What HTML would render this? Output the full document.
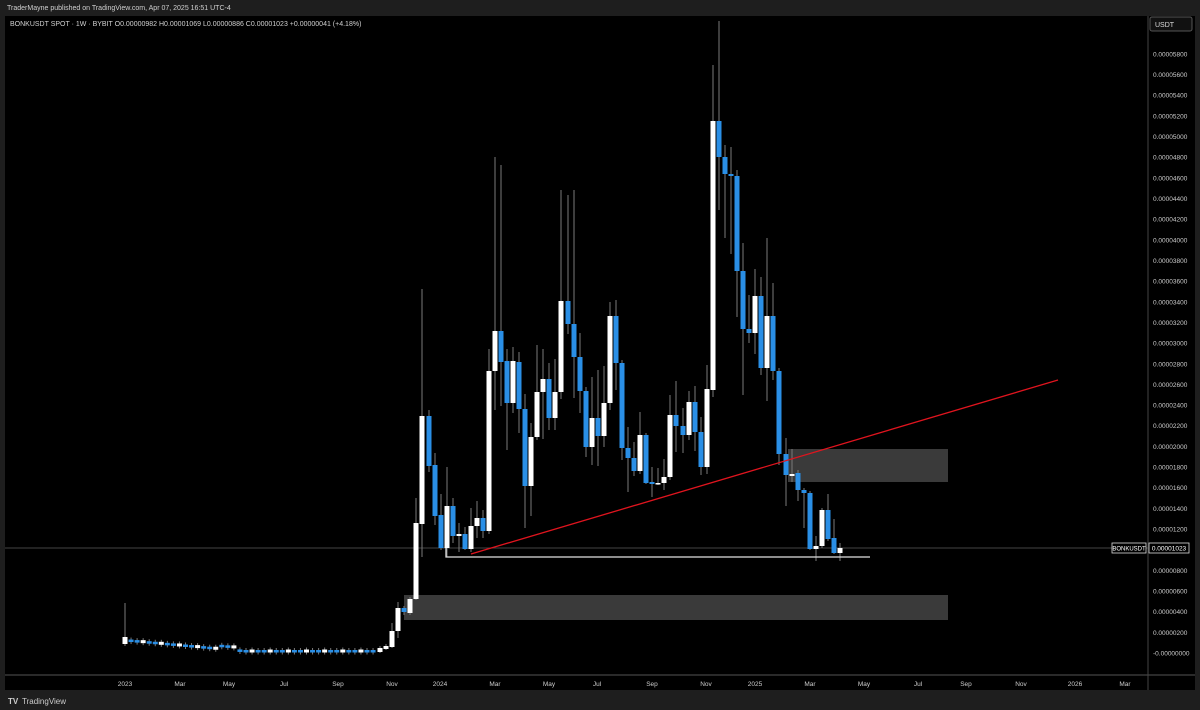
<!DOCTYPE html>
<html><head><meta charset="utf-8"><style>
body{margin:0;background:#1e1e1e;width:1200px;height:710px;overflow:hidden;font-family:"Liberation Sans",sans-serif}
svg{position:absolute;left:0;top:0}
</style></head><body>
<svg id="s" width="1200" height="710" xmlns="http://www.w3.org/2000/svg">
<rect x="0" y="0" width="1200" height="710" fill="#1e1e1e"/>
<rect x="5" y="16" width="1190" height="674" fill="#000"/>
<line x1="5" y1="675" x2="1195" y2="675" fill="none" stroke="#555" stroke-width="1"/>
<line x1="1148" y1="16" x2="1148" y2="690" stroke="#444" stroke-width="1"/>
<text x="7" y="10" fill="#d0d0d0" font-size="7">TraderMayne published on TradingView.com, Apr 07, 2025 16:51 UTC-4</text>
<text x="10" y="26" fill="#d0d0d0" font-size="7">BONKUSDT SPOT · 1W · BYBIT   O0.00000982  H0.00001069  L0.00000886  C0.00001023  +0.00000041 (+4.18%)</text>
<rect x="1150" y="17" width="42" height="14" rx="2" fill="#111" stroke="#555"/>
<text x="1155" y="27" fill="#ddd" font-size="7">USDT</text>
<text x="8" y="704" fill="#ccc" font-size="8" font-weight="bold">TV</text>
<text x="22" y="704" fill="#ccc" font-size="8">TradingView</text>
<g id="g"></g>
</svg>
<script>
const g=document.getElementById('g');let h='';
// price labels
for(let i=0;i<=29;i++){const y=653-i*20.66;const v=(i*0.000002).toFixed(8);
 if(i===5)continue;
 h+=`<text x="1153" y="${y+2.5}" fill="#ccc" font-size="6.5">${i===0?'-0.00000000':v}</text>`;}
// time labels
[[125,'2023'],[180,'Mar'],[229,'May'],[284,'Jul'],[338,'Sep'],[392,'Nov'],[440,'2024'],[495,'Mar'],[549,'May'],[597,'Jul'],[652,'Sep'],[706,'Nov'],[755,'2025'],[810,'Mar'],[864,'May'],[918,'Jul'],[966,'Sep'],[1021,'Nov'],[1075,'2026'],[1125,'Mar']].forEach(([x,t])=>{h+=`<text x="${x}" y="686" fill="#ccc" font-size="6.5" text-anchor="middle">${t}</text>`});
// zones
h+=`<rect x="788" y="449" width="160" height="33" fill="#3a3a3a"/>`;
h+=`<rect x="404" y="595" width="544" height="25" fill="#3a3a3a"/>`;
// current price line
h+=`<line x1="5" y1="548" x2="1148" y2="548" stroke="#444" stroke-width="1"/>`;
// candles: x,open,close,high,low
const C=[];
C.push([125,644,637,603,646]);
// flat section
const n=42;for(let i=1;i<n;i++){const x=125+i*6.05;const base=640+11*Math.min(1,i/20)+ (i>15&&i<19?-3:0);
 const up=(i%3===0);const o=up?base+1.5:base-1,c=up?base-1.5:base+1.5;C.push([x,o,c,Math.min(o,c)-2,Math.max(o,c)+2]);}
[[380,652,648,646,653],[386,649,646,644,650],[392,647,631,623,648],[398,631,608,602,638],[404,608,612,606,615],[410,613,599,597,615],[416,599,523,498,600],
[422,524,416,289,557],[429,416,466,410,472],[435,465,516,453,525],[441,515,548,494,550],[447,548,506,467,557],[453,506,536,498,543],[459,536,534,523,552],[465,534,549,527,550],[471,549,526,508,552],[477,526,518,501,538],[483,518,531,510,538],[489,531,371,349,534],[495,371,331,157,410],[501,331,362,165,406],[507,361,403,349,450],[513,403,361,347,413],[519,362,409,352,433],[525,409,486,394,528],[531,486,437,423,516],[537,437,392,345,440],[543,392,379,349,439],[549,379,418,363,430],[555,418,392,359,430],[561,392,301,190,399],[568,301,324,195,334],[574,324,357,190,398],[580,357,391,333,413],[586,391,447,387,457],[592,447,418,377,465],[598,418,436,370,466],[604,436,403,366,447],[610,403,316,302,410],[616,316,363,300,390],[622,363,448,360,460],[628,448,458,427,492],[634,458,471,442,476],[640,471,435,412,474],[646,435,483,433,484],[652,482,484,467,497],[658,484,483,468,485],[664,483,477,459,490],[670,477,415,395,480],[676,415,426,381,452],[683,426,435,408,453],[689,435,402,391,440],[695,402,432,386,451],[701,432,467,417,475],[707,467,389,365,474],
[713,390,121,65,397],[719,121,157,21,210],[725,157,174,145,238],[731,174,176,147,254],[737,176,271,170,317],[743,271,329,243,395],[749,329,333,295,343],[755,333,296,269,354],[761,296,368,277,375],[767,368,316,238,401],[773,316,371,283,380],[779,371,454,368,465],[786,454,475,438,506],[792,476,474,449,482],[798,473,490,470,501],[804,490,493,488,528],[810,493,549,491,550],[816,549,546,536,561],[822,546,510,508,548],[828,510,539,494,541],[834,538,553,519,554],[840,553,548,543,561]].forEach(c=>C.push(c));
C.forEach(([x,o,c,hi,lo])=>{const up=c<o;const col=up?'#ffffff':'#2a8fe6';
 h+=`<line x1="${x}" y1="${hi}" x2="${x}" y2="${lo}" stroke="#7a7a7a" stroke-width="1"/>`;
 const t=Math.min(o,c),bh=Math.max(1.5,Math.abs(o-c));
 h+=`<rect x="${x-2.5}" y="${t}" width="5" height="${bh}" fill="${col}"/>`;});
// support line
h+=`<polyline points="446,548 446,557 870,557" fill="none" stroke="#e0e0e0" stroke-width="1.3"/>`;
h+=`<line x1="471" y1="554" x2="1058" y2="380" stroke="#e0141e" stroke-width="1.3"/>`;
// tags
h+=`<rect x="1112" y="543" width="34" height="10" fill="#000" stroke="#ddd" stroke-width="0.8"/><text x="1129" y="550.5" fill="#fff" font-size="6" text-anchor="middle">BONKUSDT</text>`;
h+=`<rect x="1149" y="543" width="40" height="10" fill="#000" stroke="#ddd" stroke-width="0.8"/><text x="1169" y="550.5" fill="#fff" font-size="6.5" text-anchor="middle">0.00001023</text>`;
g.innerHTML=h;
</script>
</body></html>
